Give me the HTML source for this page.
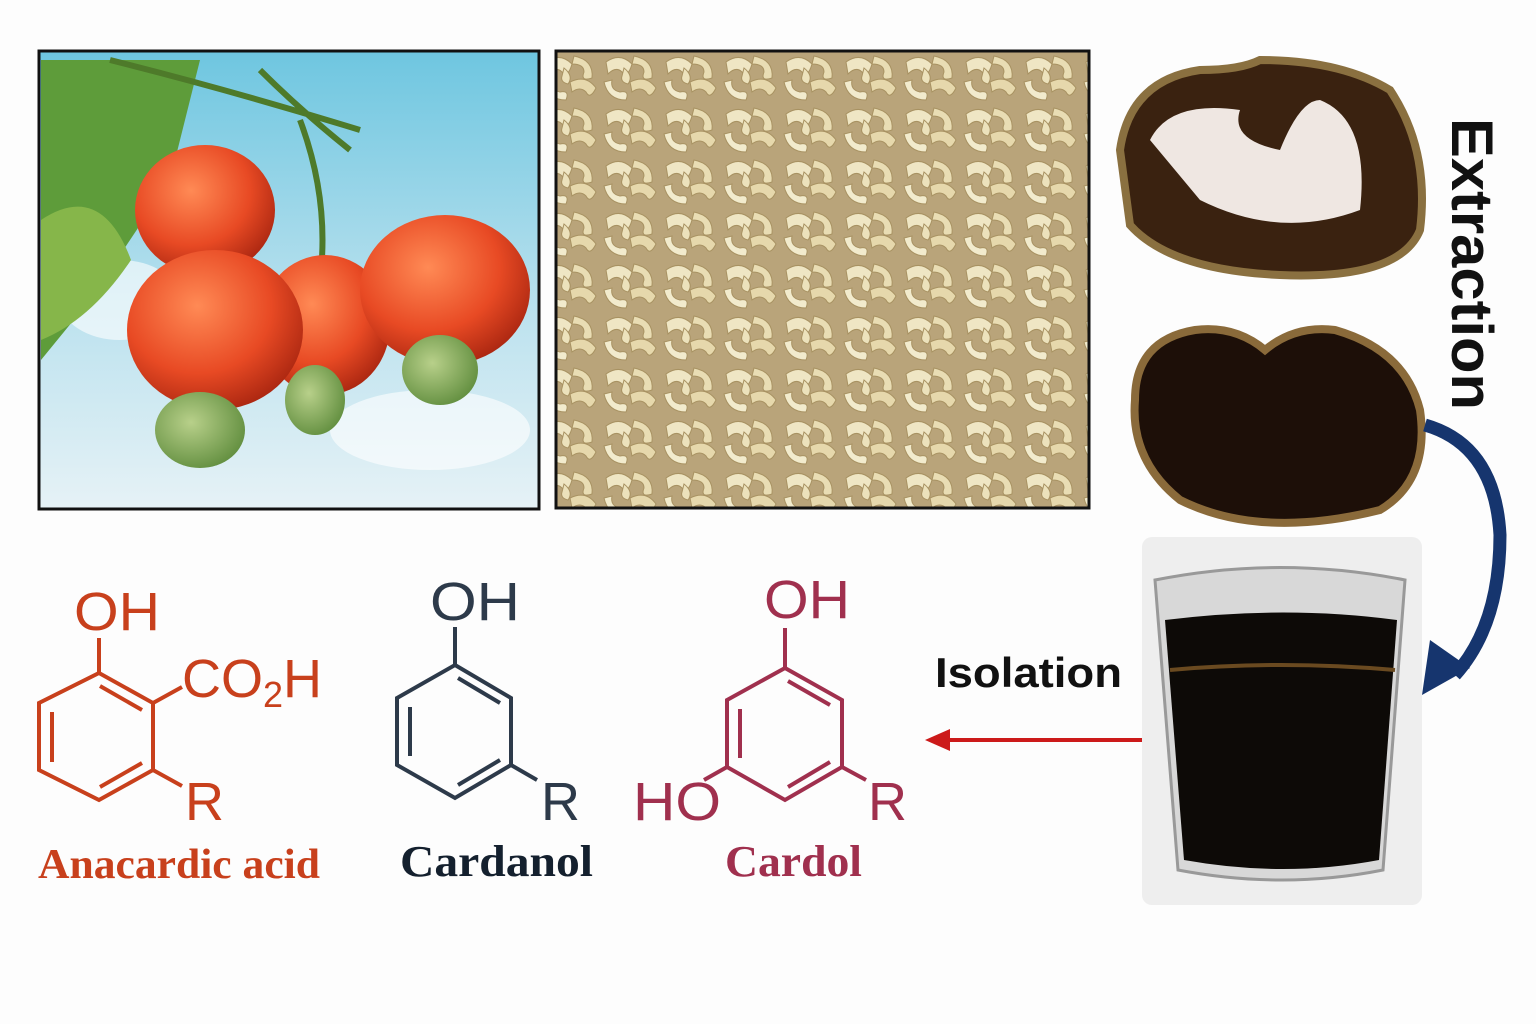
<!DOCTYPE html>
<html><head><meta charset="utf-8"><style>
body{margin:0;width:1536px;height:1024px;background:#fdfdfd;overflow:hidden;font-family:"Liberation Sans",sans-serif}
svg{position:absolute;left:0;top:0}
</style></head><body>
<svg width="1536" height="1024" viewBox="0 0 1536 1024">
<defs>
<linearGradient id="sky" x1="0" y1="0" x2="0" y2="1"><stop offset="0" stop-color="#6ec6e0"/><stop offset="0.6" stop-color="#bfe3ef"/><stop offset="1" stop-color="#e6f2f6"/></linearGradient>
<radialGradient id="apple" cx="0.4" cy="0.35" r="0.7"><stop offset="0" stop-color="#ff8a55"/><stop offset="0.6" stop-color="#e84a24"/><stop offset="1" stop-color="#a82510"/></radialGradient>
<radialGradient id="nut" cx="0.4" cy="0.4" r="0.7"><stop offset="0" stop-color="#b8d08a"/><stop offset="1" stop-color="#5c8a3a"/></radialGradient>
<pattern id="cash" width="60" height="52" patternUnits="userSpaceOnUse">
<rect width="60" height="52" fill="#b9a47a"/>
<path d="M6 10 q14 -10 26 2 q-4 14 -10 8 q-6 -6 -14 2z" fill="#efe6c4" stroke="#a89262" stroke-width="1"/>
<path d="M34 4 q20 4 18 22 q-12 4 -8 -6 q0 -8 -12 -8z" fill="#e9ddb4" stroke="#a89262" stroke-width="1"/>
<path d="M4 30 q4 18 22 18 q4 -10 -6 -8 q-10 -2 -8 -12z" fill="#f2ebcd" stroke="#a89262" stroke-width="1"/>
<path d="M30 30 q16 -8 26 6 q-6 12 -10 4 q-6 -6 -14 0z" fill="#e6d8ac" stroke="#a89262" stroke-width="1"/>
<path d="M24 16 q10 8 4 16 q-8 -2 -6 -8z" fill="#ece2bc" stroke="#a89262" stroke-width="1"/>
</pattern>
</defs>

<rect x="39" y="51" width="500" height="458" fill="url(#sky)" stroke="#111" stroke-width="3"/>
<ellipse cx="120" cy="300" rx="60" ry="40" fill="#fff" opacity="0.6"/>
<ellipse cx="430" cy="430" rx="100" ry="40" fill="#fff" opacity="0.6"/>
<path d="M41 60 L200 60 L170 180 L90 300 L41 360z" fill="#5e9c3a"/>
<path d="M41 220 q60 -40 90 40 q-40 60 -90 80z" fill="#86b64a"/>
<path d="M110 60 q120 30 250 70 M300 120 q30 80 20 160 M260 70 q40 40 90 80" stroke="#4e7a2a" stroke-width="6" fill="none"/>
<ellipse cx="205" cy="210" rx="70" ry="65" fill="url(#apple)"/>
<ellipse cx="325" cy="325" rx="65" ry="70" fill="url(#apple)"/>
<ellipse cx="445" cy="290" rx="85" ry="75" fill="url(#apple)"/>
<ellipse cx="215" cy="330" rx="88" ry="80" fill="url(#apple)"/>
<ellipse cx="440" cy="370" rx="38" ry="35" fill="url(#nut)"/>
<ellipse cx="315" cy="400" rx="30" ry="35" fill="url(#nut)"/>
<ellipse cx="200" cy="430" rx="45" ry="38" fill="url(#nut)"/>
<rect x="39" y="51" width="500" height="458" fill="none" stroke="#111" stroke-width="3"/>

<rect x="556" y="51" width="533" height="457" fill="url(#cash)" stroke="#111" stroke-width="3"/>

<path d="M1120 150 q10 -70 80 -80 q40 0 60 -10 q80 0 130 30 q40 60 30 140 q-20 50 -140 45 q-110 -5 -150 -50z" fill="#3a2210" stroke="#8a7040" stroke-width="8"/>
<path d="M1150 140 q20 -40 90 -30 q-10 30 40 40 q20 -50 40 -50 q50 20 40 110 q-80 30 -160 -10z" fill="#efe7e2"/>
<path d="M1135 400 q0 -60 60 -70 q40 -5 70 20 q30 -25 70 -20 q70 20 85 80 q10 70 -40 100 q-120 30 -200 -10 q-50 -40 -45 -100z" fill="#1d0f08" stroke="#8a6a3a" stroke-width="8"/>

<text transform="translate(1452,118) rotate(90)" font-family="Liberation Sans,sans-serif" font-weight="bold" font-size="58" fill="#111" textLength="292" lengthAdjust="spacingAndGlyphs">Extraction</text>

<path d="M1425 425 q70 20 75 110 q0 90 -45 140" stroke="#16356e" stroke-width="13" fill="none"/>
<polygon points="1422,695 1430,640 1470,668" fill="#16356e"/>

<rect x="1142" y="537" width="280" height="368" rx="10" fill="#eeeeee"/>
<path d="M1155 580 q125 -25 250 0 l-22 290 q-100 20 -205 0z" fill="#d8d8d8" stroke="#999" stroke-width="3"/>
<path d="M1165 620 q120 -15 232 0 l-18 240 q-95 18 -195 0z" fill="#0d0a07"/>
<path d="M1170 670 q110 -10 225 0" stroke="#6a4a20" stroke-width="4" fill="none"/>

<text x="935" y="687" font-family="Liberation Sans,sans-serif" font-weight="bold" font-size="42" fill="#111" textLength="187" lengthAdjust="spacingAndGlyphs">Isolation</text>
<line x1="1142" y1="740" x2="945" y2="740" stroke="#cc1a1a" stroke-width="4"/>
<polygon points="925,740 950,729 950,751" fill="#cc1a1a"/>

<g stroke="#c8401c" stroke-width="4" fill="none">
<polygon points="99,673 153,703 153,770 99,800 39,770 39,703"/>
<line x1="52" y1="712" x2="52" y2="762"/><line x1="100" y1="686" x2="142" y2="710"/><line x1="100" y1="787" x2="142" y2="763"/>
<line x1="99" y1="673" x2="99" y2="638"/><line x1="153" y1="703" x2="182" y2="687"/><line x1="153" y1="770" x2="182" y2="786"/>
</g>
<g fill="#c8401c" font-family="Liberation Sans,sans-serif" font-size="54">
<text x="74" y="630" textLength="86" lengthAdjust="spacingAndGlyphs">OH</text>
<text x="182" y="697">CO<tspan font-size="36" dy="10">2</tspan><tspan dy="-10">H</tspan></text>
<text x="185" y="820">R</text>
</g>
<text x="38" y="878" font-family="Liberation Serif,serif" font-weight="bold" font-size="42" fill="#c8401c" textLength="282" lengthAdjust="spacingAndGlyphs">Anacardic acid</text>

<g stroke="#2d3a4a" stroke-width="4" fill="none">
<polygon points="455,665 511,698 511,765 455,798 397,765 397,698"/>
<line x1="410" y1="707" x2="410" y2="756"/><line x1="458" y1="678" x2="500" y2="703"/><line x1="458" y1="785" x2="500" y2="760"/>
<line x1="455" y1="665" x2="455" y2="627"/><line x1="511" y1="765" x2="537" y2="780"/>
</g>
<g fill="#2d3a4a" font-family="Liberation Sans,sans-serif" font-size="54">
<text x="430" y="620" textLength="90" lengthAdjust="spacingAndGlyphs">OH</text><text x="541" y="820">R</text>
</g>
<text x="400" y="876" font-family="Liberation Serif,serif" font-weight="bold" font-size="44" fill="#14202e" textLength="193" lengthAdjust="spacingAndGlyphs">Cardanol</text>

<g stroke="#a0304e" stroke-width="4" fill="none">
<polygon points="785,668 842,700 842,767 785,800 727,767 727,700"/>
<line x1="740" y1="709" x2="740" y2="758"/><line x1="788" y1="681" x2="830" y2="705"/><line x1="788" y1="787" x2="830" y2="762"/>
<line x1="785" y1="668" x2="785" y2="628"/><line x1="727" y1="767" x2="704" y2="780"/><line x1="842" y1="767" x2="866" y2="780"/>
</g>
<g fill="#a0304e" font-family="Liberation Sans,sans-serif" font-size="54">
<text x="764" y="618" textLength="86" lengthAdjust="spacingAndGlyphs">OH</text><text x="633" y="820" textLength="88" lengthAdjust="spacingAndGlyphs">HO</text><text x="868" y="820">R</text>
</g>
<text x="725" y="876" font-family="Liberation Serif,serif" font-weight="bold" font-size="44" fill="#a0304e" textLength="137" lengthAdjust="spacingAndGlyphs">Cardol</text>
</svg>
</body></html>
